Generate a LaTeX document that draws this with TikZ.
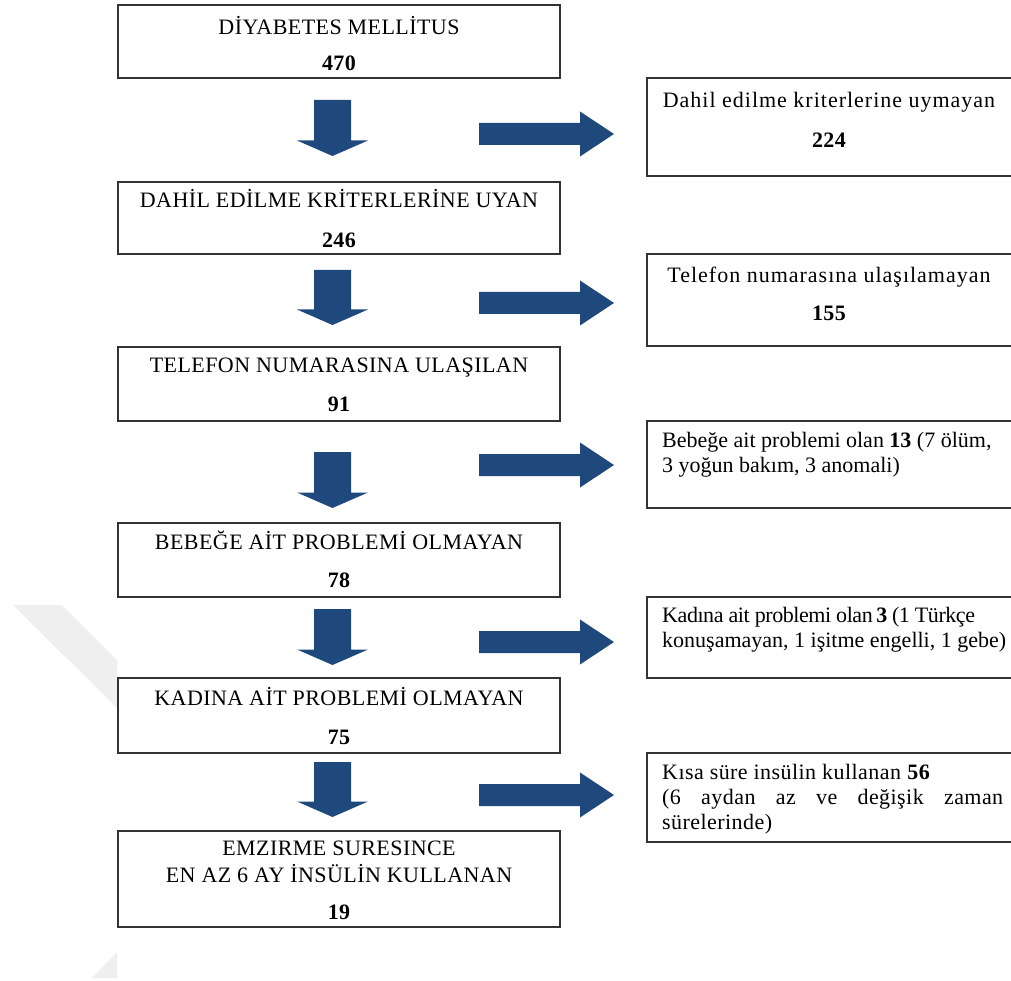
\documentclass[tikz,border=0pt]{standalone}
\usepackage{fontspec}
\setmainfont{Liberation Serif}
\newfontfamily\lsA[LetterSpace=2]{Liberation Serif}
\newfontfamily\lsB[LetterSpace=4.5]{Liberation Serif}
\newfontfamily\lsT[LetterSpace=-2]{Liberation Serif}
\definecolor{arrowblue}{HTML}{1F497D}
\definecolor{wmgray}{HTML}{EFEFEF}
\newcommand{\blkdown}[2]{% top, tip
  \fill[arrowblue] (314,#1) -- (351,#1) -- (351,#2-15.5) -- (368,#2-15.5) -- (332.5,#2) -- (297,#2-15.5) -- (314,#2-15.5) -- cycle;}
\newcommand{\blkright}[1]{% center y
  \fill[arrowblue] (479,#1-11) -- (580,#1-11) -- (580,#1-22.5) -- (614,#1) -- (580,#1+22.5) -- (580,#1+11) -- (479,#1+11) -- cycle;}
\begin{document}
\begin{tikzpicture}[x=1pt,y=-1pt,
  box/.style={draw=black!80,line width=1.5pt,inner sep=0pt},
  lbox/.style={box,minimum width=442pt},
  rbox/.style={box,minimum width=367pt},
  lbl/.style={font=\lsA\fontsize{22}{26}\selectfont,anchor=base,inner sep=0pt},
  clbl/.style={font=\lsB\fontsize{22}{26}\selectfont,anchor=base,inner sep=0pt},
  rlbl/.style={font=\fontsize{22}{26}\selectfont,anchor=base west,inner sep=0pt},
  rlblt/.style={font=\lsT\fontsize{22}{26}\selectfont,anchor=base west,inner sep=0pt},
  rlblw/.style={font=\lsA\fontsize{22}{26}\selectfont,anchor=base west,inner sep=0pt}]
\useasboundingbox (0,0) rectangle (1011,981);
% watermark
\fill[wmgray] (13,605) -- (62,605) -- (117,660) -- (117,708) -- cycle;
\fill[wmgray] (117,952) -- (117,978) -- (92,978) -- cycle;
% left boxes
\node[lbox,minimum height=73pt] (b1) at (339,41.5) {};
\node[lbox,minimum height=72pt] (b2) at (339,218) {};
\node[lbox,minimum height=74pt] (b3) at (339,384) {};
\node[lbox,minimum height=74pt] (b4) at (339,560) {};
\node[lbox,minimum height=75pt] (b5) at (339,715.5) {};
\node[lbox,minimum height=96pt] (b6) at (339,879) {};
% right boxes
\node[rbox,minimum height=98pt] (r1) at (830.5,127) {};
\node[rbox,minimum height=92pt] (r2) at (830.5,300) {};
\node[rbox,minimum height=87pt] (r3) at (830.5,464.5) {};
\node[rbox,minimum height=81pt] (r4) at (830.5,637.5) {};
\node[rbox,minimum height=89pt] (r5) at (830.5,797.5) {};
% left texts
\node[lbl] (t1a) at (339,34.5) {DİYABETES MELLİTUS};
\node[lbl] (t1b) at (339,70.5) {\bfseries 470};
\node[lbl] (t2a) at (339,207.5) {DAHİL EDİLME KRİTERLERİNE UYAN};
\node[lbl] (t2b) at (339,247.5) {\bfseries 246};
\node[lbl] (t3a) at (339,372.5) {TELEFON NUMARASINA ULAŞILAN};
\node[lbl] (t3b) at (339,411.5) {\bfseries 91};
\node[lbl] (t4a) at (339,549.5) {BEBEĞE AİT PROBLEMİ OLMAYAN};
\node[lbl] (t4b) at (339,587.5) {\bfseries 78};
\node[lbl] (t5a) at (339,705.5) {KADINA AİT PROBLEMİ OLMAYAN};
\node[lbl] (t5b) at (339,744.5) {\bfseries 75};
\node[lbl] (t6a) at (339,855.5) {EMZIRME SURESINCE};
\node[lbl] (t6b) at (339,882.5) {EN AZ 6 AY İNSÜLİN KULLANAN};
\node[lbl] (t6c) at (339,919.5) {\bfseries 19};
% right texts
\node[clbl] (s1a) at (829,107.5) {Dahil edilme kriterlerine uymayan};
\node[lbl] (s1b) at (829,147.5) {\bfseries 224};
\node[clbl] (s2a) at (829,282.5) {Telefon numarasına ulaşılamayan};
\node[lbl] (s2b) at (829,320.5) {\bfseries 155};
\node[rlbl] (s3a) at (662,447) {Bebeğe ait problemi olan \textbf{13} (7 ölüm,};
\node[rlbl] (s3b) at (662,472) {3 yoğun bakım, 3 anomali)};
\node[rlblt] (s4a) at (662,622) {Kadına ait problemi olan\,\textbf{3} (1 Türkçe};
\node[rlbl] (s4b) at (662,647) {konuşamayan, 1 işitme engelli, 1 gebe)};
\node[rlblw] (s5a) at (662,779) {Kısa süre insülin kullanan \textbf{56}};
\node[rlblw] (s5b) at (662,804) {\makebox[341pt][s]{(6 aydan az ve değişik zaman}};
\node[rlblw] (s5c) at (662,829) {sürelerinde)};
% block arrows
\blkdown{100}{156}
\blkdown{270}{325}
\blkdown{452}{508}
\blkdown{609}{665}
\blkdown{762}{817}
\blkright{134}
\blkright{303}
\blkright{465}
\blkright{642}
\blkright{795}
\end{tikzpicture}
\end{document}
